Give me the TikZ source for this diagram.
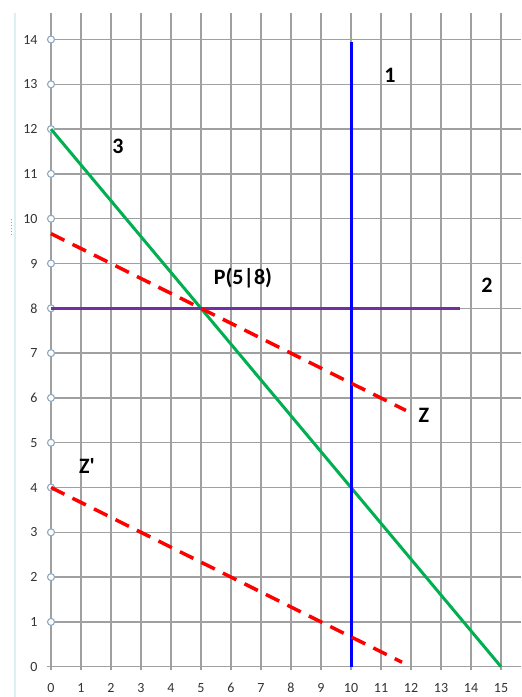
\documentclass[tikz,border=0pt]{standalone}
\usepackage{fontspec}
\setmainfont{Carlito}
\definecolor{gridgray}{HTML}{A0A0A0}
\definecolor{markblue}{HTML}{8FA8C0}
\definecolor{linegreen}{HTML}{00B050}
\definecolor{linepurple}{HTML}{7030A0}
\definecolor{bandcyan}{HTML}{DCEFF4}
\tikzset{
  gridline/.style={gridgray, line width=1.4pt},
  axislabel/.style={font=\fontsize{14}{14}\selectfont, text=black!80},
  marker/.style={markblue, fill=white, line width=1.1pt},
  bigfont/.style={font=\bfseries\fontsize{22}{22}\selectfont},
  constraint/.style={line width=3pt},
  target/.style={red, line width=3.5pt, dash pattern=on 15pt off 9pt}
}
\begin{document}
\begin{tikzpicture}[x=30pt,y=44.8pt]
    \useasboundingbox (-1.7,-0.676) rectangle (15.667,14.882);

    % Side band
    \draw[bandcyan, line width=2.5pt] (-1.2,-0.676) -- (-1.2,14.59);
    \draw[gridgray, line width=1pt, dotted] (-1.3,10.0) -- (-1.3,9.6);

    % Grid
    \foreach \x in {0,...,15} {
        \draw[gridline] (\x,-0.08) -- (\x,14.59);
        \node[axislabel] at (\x,-0.48) {\x};
    }
    \foreach \y in {0,...,14} {
        \draw[gridline] (-0.13,\y) -- (15.667,\y);
        \node[axislabel, anchor=east] at (-0.33,\y) {\y};
    }

    % Markers on y axis
    \foreach \y in {1,...,14} {
        \draw[marker] (0,\y) circle (3.5pt);
    }

    % Constraint lines
    \coordinate (b1) at (10,0);
    \coordinate (t1) at (10,13.95);
    \coordinate (l2) at (0,8);
    \coordinate (r2) at (13.63,8);
    \coordinate (t3) at (0,12);
    \coordinate (b3) at (15,0);
    \draw[constraint, linegreen] (t3) -- (b3);
    \draw[constraint, linepurple] (l2) -- (r2);
    \draw[constraint, blue] (b1) -- (t1);

    % Target lines
    \coordinate (zl) at (0,9.667);
    \coordinate (zr) at (11.83,5.72);
    \coordinate (zzl) at (0,4);
    \coordinate (zzr) at (11.7,0.1);
    \draw[target] (zl) -- (zr);
    \draw[target] (zzl) -- (zzr);

    % Labels
    \node[bigfont] (n1) at (11.3,13.19) {1};
    \node[bigfont] (n2) at (14.53,8.52) {2};
    \node[bigfont] (n3) at (2.23,11.62) {3};
    \node[bigfont] (p) at (6.4,8.67) {P(5|8)};
    \node[bigfont] (z) at (12.43,5.62) {Z};
    \node[bigfont] (zz) at (1.2,4.48) {Z\textquotesingle};
\end{tikzpicture}
\end{document}
